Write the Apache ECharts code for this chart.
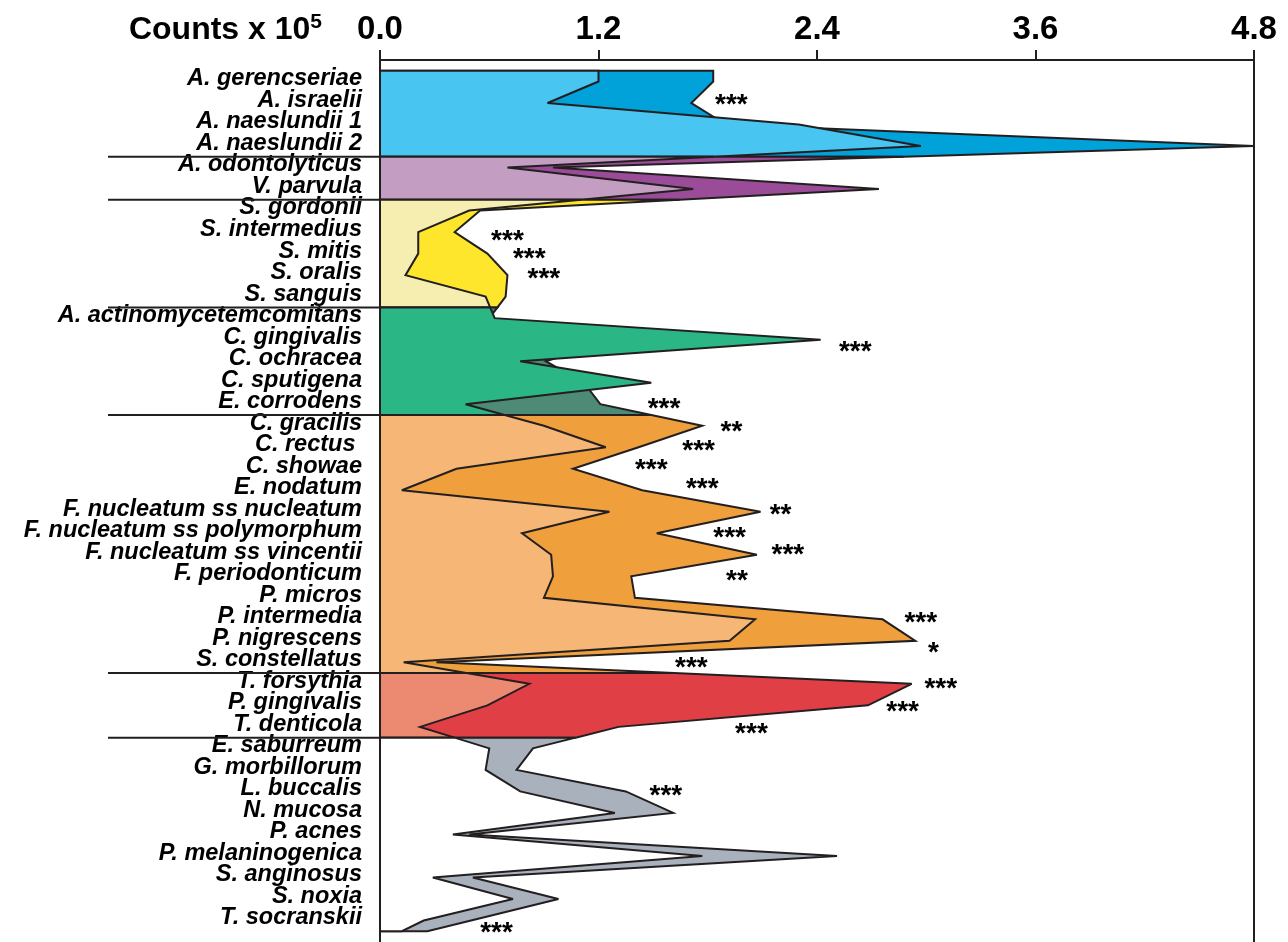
<!DOCTYPE html>
<html>
<head>
<meta charset="utf-8">
<script src="https://cdn.jsdelivr.net/npm/echarts@6/dist/echarts.min.js"></script>
<style>html,body{margin:0;padding:0;background:#fff}#chart{width:1288px;height:942px}</style>
</head>
<body>
<div id="chart"></div>
<script>
// ---------------- data ----------------
const species = [
  'A. gerencseriae','A. israelii','A. naeslundii 1','A. naeslundii 2',
  'A. odontolyticus','V. parvula',
  'S. gordonii','S. intermedius','S. mitis','S. oralis','S. sanguis',
  'A. actinomycetemcomitans','C. gingivalis','C. ochracea','C. sputigena','E. corrodens',
  'C. gracilis','C. rectus ','C. showae','E. nodatum','F. nucleatum ss nucleatum',
  'F. nucleatum ss polymorphum','F. nucleatum ss vincentii','F. periodonticum','P. micros',
  'P. intermedia','P. nigrescens','S. constellatus',
  'T. forsythia','P. gingivalis','T. denticola',
  'E. saburreum','G. morbillorum','L. buccalis','N. mucosa','P. acnes',
  'P. melaninogenica','S. anginosus','S. noxia','T. socranskii'
];
// light profile (drawn on top)
const seriesA = [
  1.20, 0.92, 2.30, 2.97,
  0.70, 1.72,
  0.49, 0.21, 0.21, 0.14, 0.58,
  0.63, 2.42, 0.77, 1.49, 0.47,
  0.90, 1.24, 0.42, 0.12, 1.26, 0.78, 0.94, 0.95, 0.90, 2.06, 1.92, 0.13,
  0.82, 0.59, 0.22,
  0.60, 0.58, 0.77, 1.29, 0.40, 1.77, 0.29, 0.73, 0.24
];
// dark profile (drawn underneath)
const seriesB = [
  1.83, 1.71, 1.90, 4.80,
  0.95, 2.74,
  0.55, 0.41, 0.59, 0.70, 0.69,
  0.60, 1.30, 0.91, 1.12, 1.21,
  1.77, 1.42, 1.06, 1.44, 2.09, 1.52, 2.07, 1.38, 1.40, 2.76, 2.94, 0.31,
  2.92, 2.68, 1.31,
  0.84, 0.75, 1.35, 1.61, 0.49, 2.51, 0.51, 0.98, 0.50
];
const seriesATail = 0.12;
const seriesBTail = 0.26;
// last species index of each complex
const groupLastIndex = [3, 5, 10, 15, 27, 30, 39];
// significance marks
const sigMarks = ['***','***','***','***','***','***','**','***','***','***','**','***','***','**','***','*','***','***','***','***','***','***'];
const sigRow   = [0.90, 7.22, 8.06, 9.03, 12.38, 15.03, 16.10, 17.00, 17.87, 18.75, 20.00, 21.07, 21.86, 23.03, 24.98, 26.37, 27.07, 28.05, 29.12, 30.18, 33.02, 39.39];
const sigValue = [1.93, 0.70, 0.82, 0.90, 2.61, 1.56, 1.93, 1.75, 1.49, 1.77, 2.20, 1.92, 2.24, 1.96, 2.97, 3.04, 1.71, 3.08, 2.87, 2.04, 1.57, 0.64];
const xTicks = [0, 1.2, 2.4, 3.6, 4.8];

// ---------------- styles ----------------
const FONT = '"Liberation Sans", Arial, Helvetica, sans-serif';
const INK = '#231f20';
const lightColors = ['#48c5f1', '#c49dc3', '#f6eeb0', '#2bb686', '#f5b676', '#ec8a71', '#ffffff'];
const darkColors  = ['#00a2d9', '#9b4c98', '#fde62c', '#4d8b76', '#efa03c', '#e03f45', '#a9b1bc'];

// ---------------- profile helpers ----------------
const rows = [-0.5].concat(species.map((_, i) => i), [species.length - 0.5]);
const profA = [seriesA[0]].concat(seriesA, [seriesATail]);
const profB = [seriesB[0]].concat(seriesB, [seriesBTail]);

function valAt(vals, r) {
  for (let k = 0; k < rows.length - 1; k++) {
    if (r >= rows[k] && r <= rows[k + 1]) {
      const t = (r - rows[k]) / (rows[k + 1] - rows[k]);
      return vals[k] + t * (vals[k + 1] - vals[k]);
    }
  }
  return vals[vals.length - 1];
}
function bandPoints(vals, a, b) {
  const pts = [[0, a], [valAt(vals, a), a]];
  for (let k = 0; k < rows.length; k++) {
    if (rows[k] > a && rows[k] < b) pts.push([vals[k], rows[k]]);
  }
  pts.push([valAt(vals, b), b]);
  pts.push([0, b]);
  return pts;
}
const bands = groupLastIndex.map((last, k) => [k === 0 ? -0.5 : groupLastIndex[k - 1] + 0.5, last + 0.5]);

const chart = echarts.init(document.getElementById('chart'), null, { renderer: 'canvas' });

const option = {
  backgroundColor: '#ffffff',
  animation: false,
  grid: [
    { left: 380, right: 34, top: 60, bottom: 0, containLabel: false, outerBoundsMode: 'none' },
    { left: 380, right: 34, top: 68.2, height: 860.4, containLabel: false, outerBoundsMode: 'none' }
  ],
  xAxis: [
    {
      type: 'value', gridIndex: 0, position: 'top',
      min: xTicks[0], max: xTicks[xTicks.length - 1], interval: xTicks[1] - xTicks[0],
      name: 'Counts x 10{s|5}', nameLocation: 'start', nameGap: 58,
      nameTextStyle: {
        fontSize: 32, fontWeight: 'bold', color: '#000', fontFamily: FONT,
        verticalAlign: 'bottom', lineHeight: 36, padding: [0, 0, 12, 0],
        rich: { s: { fontSize: 21, fontWeight: 'bold', color: '#000', fontFamily: FONT, verticalAlign: 'top', lineHeight: 22 } }
      },
      axisLine: { show: true, onZero: false, lineStyle: { color: INK, width: 2 } },
      axisTick: { show: true, inside: false, length: 10, lineStyle: { color: INK, width: 2 } },
      axisLabel: {
        show: true, margin: 14, fontSize: 33, fontWeight: 'bold', color: '#000', fontFamily: FONT,
        showMinLabel: true, showMaxLabel: true, hideOverlap: false,
        formatter: v => v.toFixed(1)
      },
      splitLine: { show: false }
    },
    { type: 'value', gridIndex: 1, show: false, min: 0, max: 4.8 }
  ],
  yAxis: [
    {
      type: 'value', gridIndex: 0, inverse: true, min: -1, max: 40, position: 'left',
      axisLine: { show: true, onZero: false, lineStyle: { color: INK, width: 2 } },
      axisTick: { show: false }, axisLabel: { show: false }, splitLine: { show: false }
    },
    {
      type: 'value', gridIndex: 0, inverse: true, min: -1, max: 40, position: 'right',
      axisLine: { show: true, onZero: false, lineStyle: { color: INK, width: 2 } },
      axisTick: { show: false }, axisLabel: { show: false }, splitLine: { show: false }
    },
    {
      type: 'category', gridIndex: 1, inverse: true, data: species, boundaryGap: true,
      axisLine: { show: false }, axisTick: { show: false }, splitLine: { show: false },
      axisLabel: {
        show: true, interval: 0, margin: 18, fontSize: 23.5, fontWeight: 'bold', fontStyle: 'italic',
        color: '#000', fontFamily: FONT
      }
    }
  ],
  series: [
    {
      type: 'custom', name: 'profiles', xAxisIndex: 0, yAxisIndex: 0, clip: false, z: 3,
      data: bands.map((b, k) => [0, 0, k]),
      renderItem: function (params, api) {
        const k = api.value(2);
        const a = bands[k][0], b = bands[k][1];
        const toPx = p => api.coord([p[0], p[1]]);
        const ptsB = bandPoints(profB, a, b).map(toPx);
        const ptsA = bandPoints(profA, a, b).map(toPx);
        const children = [
          { type: 'polygon', shape: { points: ptsB },
            style: { fill: darkColors[k], stroke: INK, lineWidth: 2, lineJoin: 'miter', miterLimit: 4 } },
          { type: 'polygon', shape: { points: ptsA },
            style: { fill: lightColors[k], stroke: INK, lineWidth: 2, lineJoin: 'miter', miterLimit: 4 } }
        ];
        if (k > 0) {
          const p = api.coord([0, a]);
          children.push({ type: 'line', shape: { x1: p[0] - 272, y1: p[1], x2: p[0], y2: p[1] },
            style: { stroke: INK, lineWidth: 2 } });
        }
        return { type: 'group', children: children };
      }
    },
    {
      type: 'custom', name: 'significance', xAxisIndex: 0, yAxisIndex: 0, clip: false, z: 4,
      data: sigMarks.map((m, i) => [sigValue[i], sigRow[i]]),
      renderItem: function (params, api) {
        const p = api.coord([api.value(0), api.value(1)]);
        return {
          type: 'text', x: p[0], y: p[1] + 4,
          style: { text: sigMarks[params.dataIndex], fill: '#000', font: 'bold 28px ' + FONT,
                   align: 'center', verticalAlign: 'middle' }
        };
      }
    }
  ]
};
chart.setOption(option);
</script>
</body>
</html>
